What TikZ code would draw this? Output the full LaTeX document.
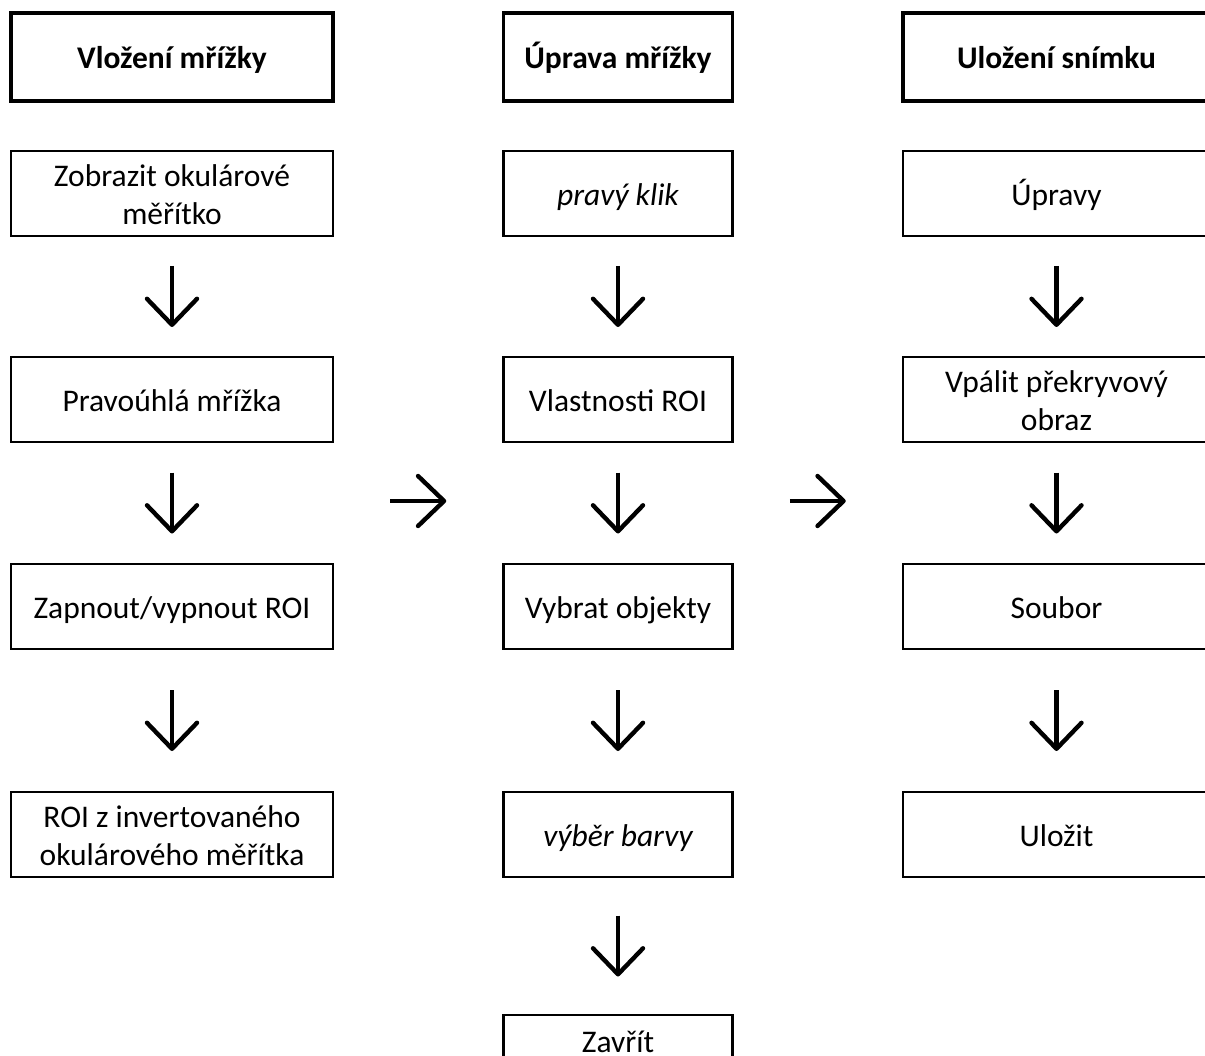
\documentclass[tikz,border=0pt]{standalone}
\usepackage{fontspec}
\setmainfont{Carlito}
\usetikzlibrary{arrows.meta,calc}
\begin{document}
\begin{tikzpicture}[x=1pt,y=-1pt,
  box/.style={draw,line width=2.6pt,minimum height=85pt,inner sep=0pt,align=center,
    font=\fontsize{31.5}{38}\selectfont, text height=29pt, text depth=5pt},
  twoline/.style={text height=67pt, text depth=5pt},
  headbox/.style={box,line width=3.5pt,minimum height=88pt,font=\fontsize{31.5}{38}\selectfont\bfseries},
  wA/.style={minimum width=322pt},
  wB/.style={minimum width=229pt},
  wC/.style={minimum width=307pt},
  arr/.style={line width=4.4pt,-{Straight Barb[length=26pt,width=50pt,round]}}]
\useasboundingbox (0,0) rectangle (1205,1056);
% headers
\node[headbox,wA] (h1) at (172,57) {Vložení mřížky};
\node[headbox,wB] (h2) at (618,57) {Úprava mřížky};
\node[headbox,wC] (h3) at (1056.5,57) {Uložení snímku};
% column 1
\node[box,twoline,wA] (a1) at (172,193.5) {Zobrazit okulárové\\měřítko};
\node[box,wA] (a2) at (172,399.5) {Pravoúhlá mřížka};
\node[box,wA] (a3) at (172,606.5) {Zapnout/vypnout ROI};
\node[box,twoline,wA] (a4) at (172,834.5) {ROI z invertovaného\\okulárového měřítka};
% column 2
\node[box,wB] (b1) at (618,193.5) {\itshape pravý klik};
\node[box,wB] (b2) at (618,399.5) {Vlastnosti ROI};
\node[box,wB] (b3) at (618,606.5) {Vybrat objekty};
\node[box,wB] (b4) at (618,834.5) {\itshape výběr barvy};
\node[box,wB,minimum height=50pt] (b5) at (618,1040) {Zavřít};
% column 3
\node[box,wC] (c1) at (1056.5,193.5) {Úpravy};
\node[box,twoline,wC] (c2) at (1056.5,399.5) {Vpálit překryvový\\obraz};
\node[box,wC] (c3) at (1056.5,606.5) {Soubor};
\node[box,wC] (c4) at (1056.5,834.5) {Uložit};
% vertical arrows
\foreach \u/\v in {a1/a2,a2/a3,a3/a4,b1/b2,b2/b3,b3/b4,b4/b5,c1/c2,c2/c3,c3/c4}{
  \draw[arr] ($(\u.south)!0.5!(\v.north)+(0,-30.5)$) -- ($(\u.south)!0.5!(\v.north)+(0,30.5)$);
}
% horizontal arrows
\path (a2.south east) -- (b3.north west) coordinate[pos=0.5] (m1);
\path (b2.south east) -- (c3.north west) coordinate[pos=0.5] (m2);
\draw[arr] ([xshift=-28pt,yshift=2pt]m1) -- ([xshift=28pt,yshift=2pt]m1);
\draw[arr] ([xshift=-28pt,yshift=2pt]m2) -- ([xshift=28pt,yshift=2pt]m2);
\end{tikzpicture}
\end{document}
